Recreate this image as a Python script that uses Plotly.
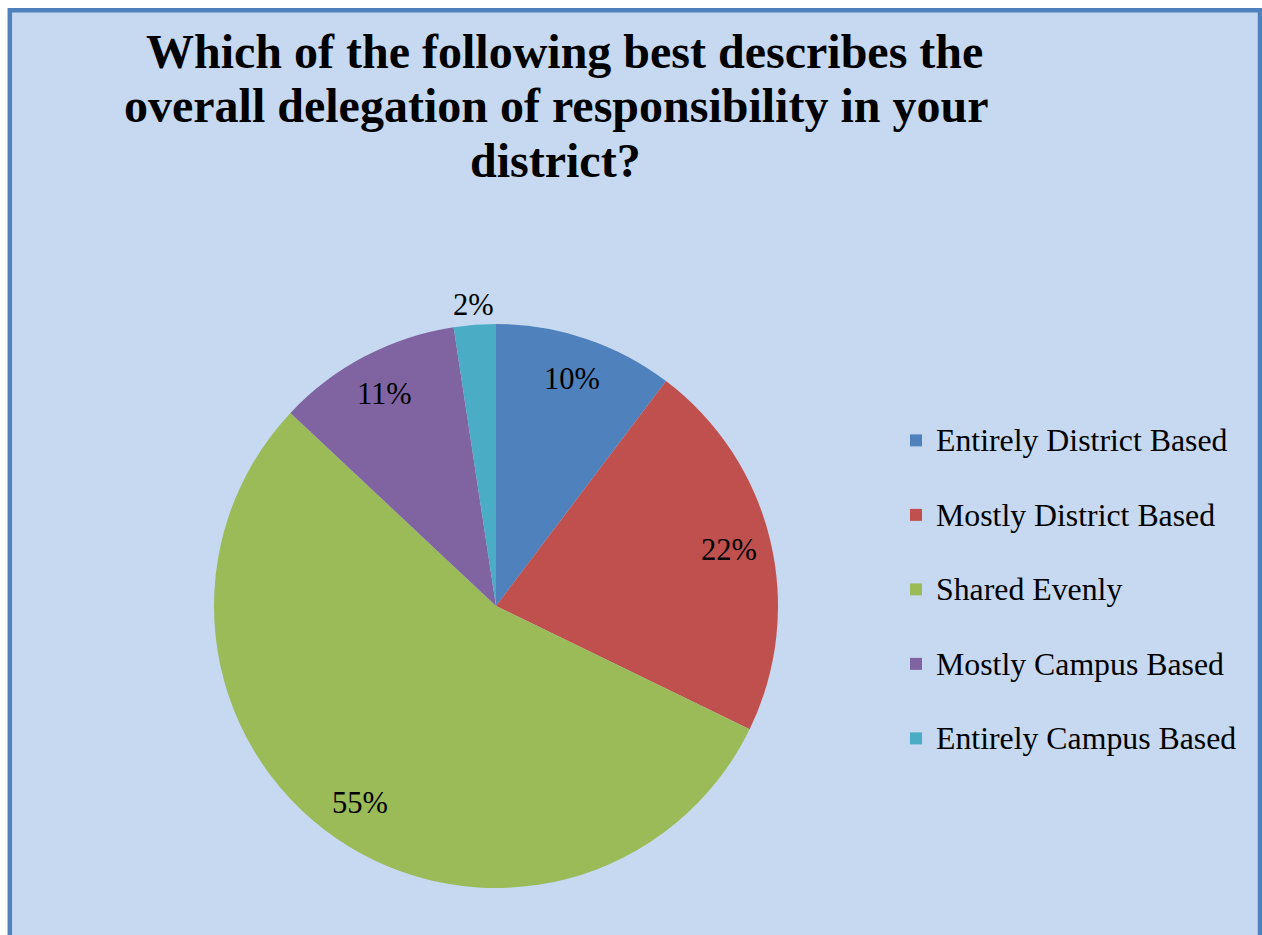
import math
import plotly.graph_objects as go

# ---------------- data ----------------
categories = ["Entirely District Based", "Mostly District Based", "Shared Evenly",
              "Mostly Campus Based", "Entirely Campus Based"]
values = [10.3, 21.9, 54.8, 10.6, 2.4]
colors = ["#4F81BD", "#C0504D", "#9BBB59", "#8064A2", "#4BACC6"]
title_lines = ["Which of the following best describes the",
               "overall delegation of responsibility in your",
               "district?"]

# ---------------- layout geometry ----------------
W, H = 1262, 935
FONT = "Liberation Serif"
cx_px, cy_px, r_px = 496, 606, 282
dom_x = [(cx_px - r_px) / W, (cx_px + r_px) / W]
dom_y = [1 - (cy_px + r_px) / H, 1 - (cy_px - r_px) / H]

legend_labels = [f'<span style="font-size:31.8px">{c}</span><br> ' for c in categories]

fig = go.Figure(go.Pie(
    labels=legend_labels,
    values=values,
    customdata=categories,
    hovertemplate="%{customdata}: %{percent}<extra></extra>",
    marker=dict(colors=colors, line=dict(width=0)),
    sort=False,
    direction="clockwise",
    rotation=0,
    textinfo="none",
    domain=dict(x=dom_x, y=dom_y),
))

# percentage labels computed from the data
total = sum(values)
annotations = []
cum = 0.0
for v in values:
    frac = v / total
    mid = (cum + frac / 2) * 2 * math.pi
    cum += frac
    rr = 0.85 if frac >= 0.05 else 1.07
    px = cx_px + rr * r_px * math.sin(mid)
    py = cy_px - rr * r_px * math.cos(mid)
    annotations.append(dict(
        x=px / W, y=1 - py / H, xref="paper", yref="paper",
        text=f"{round(frac * 100)}%", showarrow=False,
        xanchor="center", yanchor="middle",
        font=dict(family=FONT, size=30.5, color="black"),
    ))

# title lines
title_centers = [(564, 51), (556, 105), (555, 160)]
for line, (tx, ty) in zip(title_lines, title_centers):
    annotations.append(dict(
        x=tx / W, y=1 - ty / H, xref="paper", yref="paper",
        text=f"<b>{line}</b>", showarrow=False,
        xanchor="center", yanchor="middle",
        font=dict(family=FONT, size=48, color="black"),
    ))

fig.update_layout(
    width=W, height=H,
    margin=dict(l=0, r=0, t=0, b=0),
    paper_bgcolor="white",
    plot_bgcolor="rgba(0,0,0,0)",
    showlegend=True,
    legend=dict(
        x=896 / W, y=1 - 416 / H, xanchor="left", yanchor="top",
        font=dict(family=FONT, size=27.5, color="black"),
        bgcolor="rgba(0,0,0,0)", valign="top", traceorder="normal",
    ),
    annotations=annotations,
    shapes=[dict(
        type="rect", xref="paper", yref="paper",
        x0=9.8 / W, x1=1260 / W, y0=-0.05, y1=1 - 10.3 / H,
        line=dict(color="#4F81BD", width=4.5),
        fillcolor="#C6D9F1", layer="below",
    )],
)

fig.write_html(
    "out.html",
    config={"displayModeBar": False},
    post_script="document.body.style.margin='0';document.body.style.overflow='hidden';",
)
